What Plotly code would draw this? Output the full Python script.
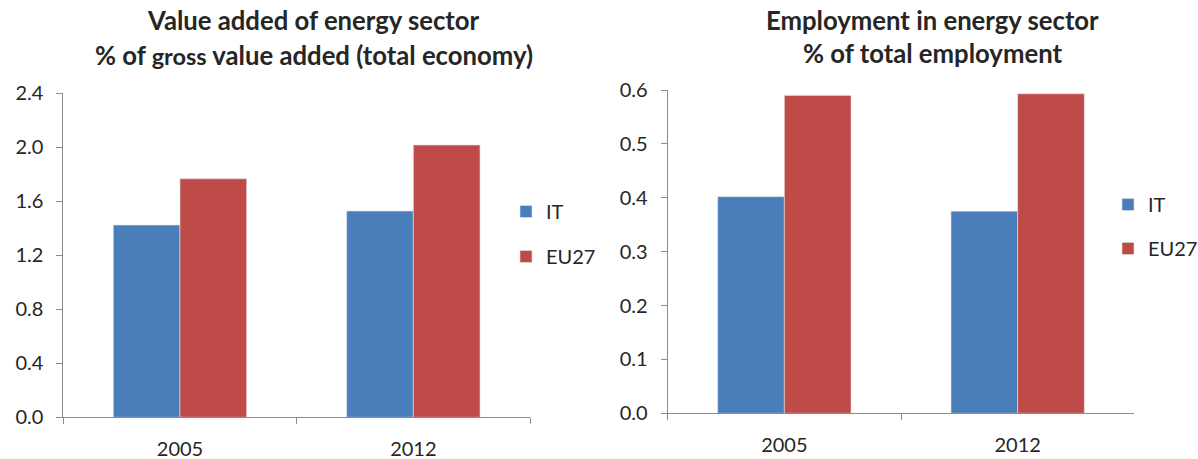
import plotly.graph_objects as go

years = ["2005", "2012"]
va_it = [1.424, 1.528]
va_eu27 = [1.767, 2.017]
emp_it = [0.402, 0.375]
emp_eu27 = [0.590, 0.593]
series_names = ["IT", "EU27"]
colors = ["#4A7EBB", "#BE4B48"]

W, H = 1198, 459
FONT = "Lato"
TXT = "#262626"
AX = "#8C8C8C"

def px_x(p):
    return p / W

def px_y(p):
    return 1 - p / H

fig = go.Figure()
for name, vals, col in zip(series_names, [va_it, va_eu27], colors):
    fig.add_trace(go.Bar(x=years, y=vals, name=name, marker=dict(color=col, line=dict(color="#E0E0E0", width=0.6)),
                         xaxis="x", yaxis="y", legend="legend", legendgroup=name + "a"))
for name, vals, col in zip(series_names, [emp_it, emp_eu27], colors):
    fig.add_trace(go.Bar(x=years, y=vals, name=name, marker=dict(color=col, line=dict(color="#E0E0E0", width=0.6)),
                         xaxis="x2", yaxis="y2", legend="legend2", legendgroup=name + "b"))

xcommon = dict(type="category", showline=True, linecolor=AX, linewidth=1, ticks="outside", tickcolor=AX,
               ticklen=6, tickson="boundaries", showgrid=False, zeroline=False, automargin=False,
               tickfont=dict(family=FONT, size=20, color=TXT), ticklabelstandoff=14)
ycommon = dict(showline=True, linecolor=AX, linewidth=1, ticks="outside", tickcolor=AX, ticklen=6,
               showgrid=False, zeroline=False, automargin=False, tickfont=dict(family=FONT, size=20, color=TXT),
               ticklabelstandoff=9)

fig.update_layout(
    template="none",
    width=W, height=H, margin=dict(l=0, r=0, t=0, b=0, pad=0, autoexpand=False),
    paper_bgcolor="white", plot_bgcolor="white",
    barmode="group", bargap=0.4286, bargroupgap=0,
    xaxis=dict(domain=[px_x(63.3), px_x(530)], anchor="y", **xcommon),
    yaxis=dict(domain=[px_y(417.3), px_y(93.3)], anchor="x", range=[0, 2.4], dtick=0.4, tickformat=".1f", **ycommon),
    xaxis2=dict(domain=[px_x(667.7), px_x(1134.3)], anchor="y2", **xcommon),
    yaxis2=dict(domain=[px_y(413.3), px_y(90)], anchor="x2", range=[0, 0.6], dtick=0.1, tickformat=".1f", **ycommon),
    legend=dict(x=px_x(506), y=px_y(192), xanchor="left", yanchor="top", tracegroupgap=16,
                font=dict(family=FONT, size=20, color=TXT), bgcolor="rgba(0,0,0,0)"),
    legend2=dict(x=px_x(1108), y=px_y(185), xanchor="left", yanchor="top", tracegroupgap=15,
                 font=dict(family=FONT, size=20, color=TXT), bgcolor="rgba(0,0,0,0)"),
    showlegend=True,
)

tfont = dict(family=FONT, size=25.7, color=TXT)
fig.add_annotation(text="<b>Value added of energy sector</b>", x=px_x(313), y=px_y(20), xref="paper", yref="paper",
                   showarrow=False, font=tfont, xanchor="center", yanchor="middle")
fig.add_annotation(text="<b>% of <span style='font-size:23.5px'>gross</span> value added (total economy)</b>",
                   x=px_x(314), y=px_y(55), xref="paper", yref="paper",
                   showarrow=False, font=tfont, xanchor="center", yanchor="middle")
fig.add_annotation(text="<b>Employment in energy sector</b>", x=px_x(932), y=px_y(20), xref="paper", yref="paper",
                   showarrow=False, font=tfont, xanchor="center", yanchor="middle")
fig.add_annotation(text="<b>% of total employment</b>", x=px_x(932), y=px_y(53), xref="paper", yref="paper",
                   showarrow=False, font=tfont, xanchor="center", yanchor="middle")

fig.write_html("out.html", config={"displayModeBar": False},
               post_script="document.body.style.margin='0';document.body.style.overflow='hidden';")
